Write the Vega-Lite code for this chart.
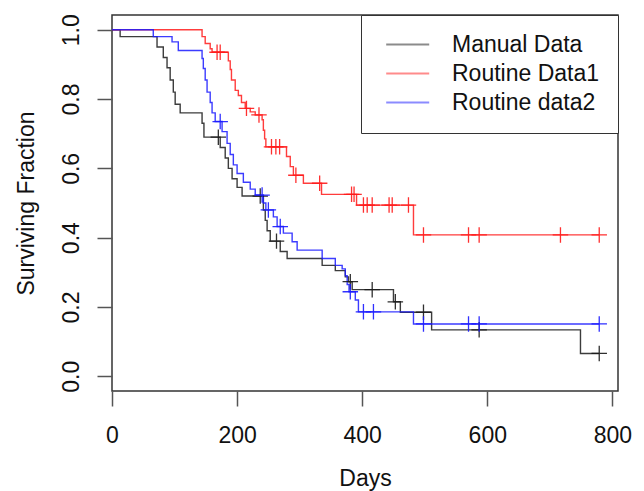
{
  "$schema": "https://vega.github.io/schema/vega-lite/v6.json",
  "width": 506,
  "height": 376,
  "autosize": {"type": "none"},
  "padding": {"left": 112, "top": 15, "right": 26, "bottom": 100},
  "background": "white",
  "config": {
    "font": "Liberation Sans",
    "view": {"stroke": "#333333", "strokeWidth": 1.5},
    "axis": {"grid": false, "domain": false, "tickColor": "#555555", "tickWidth": 1.5, "tickSize": 15, "labelColor": "#111111", "titleColor": "#111111", "labelFontSize": 23, "titleFontSize": 23, "titleFontWeight": "normal"}
  },
  "data": {"values": [
    {"series": "Manual Data", "kind": "step", "day": 0, "surv": 1.0},
    {"series": "Manual Data", "kind": "step", "day": 13, "surv": 0.98},
    {"series": "Manual Data", "kind": "step", "day": 72, "surv": 0.95},
    {"series": "Manual Data", "kind": "step", "day": 82, "surv": 0.92},
    {"series": "Manual Data", "kind": "step", "day": 88, "surv": 0.89},
    {"series": "Manual Data", "kind": "step", "day": 93, "surv": 0.855},
    {"series": "Manual Data", "kind": "step", "day": 98, "surv": 0.82},
    {"series": "Manual Data", "kind": "step", "day": 101, "surv": 0.785},
    {"series": "Manual Data", "kind": "step", "day": 109, "surv": 0.76},
    {"series": "Manual Data", "kind": "step", "day": 144, "surv": 0.73},
    {"series": "Manual Data", "kind": "step", "day": 147, "surv": 0.69},
    {"series": "Manual Data", "kind": "step", "day": 173, "surv": 0.66},
    {"series": "Manual Data", "kind": "step", "day": 181, "surv": 0.63},
    {"series": "Manual Data", "kind": "step", "day": 186, "surv": 0.6},
    {"series": "Manual Data", "kind": "step", "day": 192, "surv": 0.57},
    {"series": "Manual Data", "kind": "step", "day": 200, "surv": 0.545},
    {"series": "Manual Data", "kind": "step", "day": 208, "surv": 0.52},
    {"series": "Manual Data", "kind": "step", "day": 242, "surv": 0.48},
    {"series": "Manual Data", "kind": "step", "day": 245, "surv": 0.45},
    {"series": "Manual Data", "kind": "step", "day": 248, "surv": 0.42},
    {"series": "Manual Data", "kind": "step", "day": 253, "surv": 0.39},
    {"series": "Manual Data", "kind": "step", "day": 269, "surv": 0.36},
    {"series": "Manual Data", "kind": "step", "day": 280, "surv": 0.34},
    {"series": "Manual Data", "kind": "step", "day": 336, "surv": 0.32},
    {"series": "Manual Data", "kind": "step", "day": 357, "surv": 0.305},
    {"series": "Manual Data", "kind": "step", "day": 373, "surv": 0.287},
    {"series": "Manual Data", "kind": "step", "day": 378, "surv": 0.273},
    {"series": "Manual Data", "kind": "step", "day": 384, "surv": 0.25},
    {"series": "Manual Data", "kind": "step", "day": 450, "surv": 0.215},
    {"series": "Manual Data", "kind": "step", "day": 461, "surv": 0.185},
    {"series": "Manual Data", "kind": "step", "day": 511, "surv": 0.134},
    {"series": "Manual Data", "kind": "step", "day": 749, "surv": 0.066},
    {"series": "Manual Data", "kind": "step", "day": 779, "surv": 0.066},
    {"series": "Manual Data", "kind": "censor", "day": 170, "surv": 0.69},
    {"series": "Manual Data", "kind": "censor", "day": 237, "surv": 0.52},
    {"series": "Manual Data", "kind": "censor", "day": 263, "surv": 0.39},
    {"series": "Manual Data", "kind": "censor", "day": 381, "surv": 0.273},
    {"series": "Manual Data", "kind": "censor", "day": 416, "surv": 0.25},
    {"series": "Manual Data", "kind": "censor", "day": 453, "surv": 0.215},
    {"series": "Manual Data", "kind": "censor", "day": 498, "surv": 0.185},
    {"series": "Manual Data", "kind": "censor", "day": 587, "surv": 0.134},
    {"series": "Manual Data", "kind": "censor", "day": 779, "surv": 0.066},
    {"series": "Routine Data1", "kind": "step", "day": 0, "surv": 1.0},
    {"series": "Routine Data1", "kind": "step", "day": 144, "surv": 0.98},
    {"series": "Routine Data1", "kind": "step", "day": 149, "surv": 0.96},
    {"series": "Routine Data1", "kind": "step", "day": 157, "surv": 0.945},
    {"series": "Routine Data1", "kind": "step", "day": 160, "surv": 0.935},
    {"series": "Routine Data1", "kind": "step", "day": 186, "surv": 0.91},
    {"series": "Routine Data1", "kind": "step", "day": 189, "surv": 0.885},
    {"series": "Routine Data1", "kind": "step", "day": 191, "surv": 0.855},
    {"series": "Routine Data1", "kind": "step", "day": 197, "surv": 0.825},
    {"series": "Routine Data1", "kind": "step", "day": 202, "surv": 0.81},
    {"series": "Routine Data1", "kind": "step", "day": 207, "surv": 0.79},
    {"series": "Routine Data1", "kind": "step", "day": 213, "surv": 0.773},
    {"series": "Routine Data1", "kind": "step", "day": 221, "surv": 0.763},
    {"series": "Routine Data1", "kind": "step", "day": 229, "surv": 0.754},
    {"series": "Routine Data1", "kind": "step", "day": 240, "surv": 0.74},
    {"series": "Routine Data1", "kind": "step", "day": 242, "surv": 0.71},
    {"series": "Routine Data1", "kind": "step", "day": 244, "surv": 0.685},
    {"series": "Routine Data1", "kind": "step", "day": 246, "surv": 0.662},
    {"series": "Routine Data1", "kind": "step", "day": 279, "surv": 0.634},
    {"series": "Routine Data1", "kind": "step", "day": 285, "surv": 0.605},
    {"series": "Routine Data1", "kind": "step", "day": 290, "surv": 0.58},
    {"series": "Routine Data1", "kind": "step", "day": 306, "surv": 0.557},
    {"series": "Routine Data1", "kind": "step", "day": 335, "surv": 0.525},
    {"series": "Routine Data1", "kind": "step", "day": 391, "surv": 0.494},
    {"series": "Routine Data1", "kind": "step", "day": 482, "surv": 0.408},
    {"series": "Routine Data1", "kind": "step", "day": 779, "surv": 0.408},
    {"series": "Routine Data1", "kind": "censor", "day": 168, "surv": 0.935},
    {"series": "Routine Data1", "kind": "censor", "day": 173, "surv": 0.935},
    {"series": "Routine Data1", "kind": "censor", "day": 215, "surv": 0.773},
    {"series": "Routine Data1", "kind": "censor", "day": 235, "surv": 0.754},
    {"series": "Routine Data1", "kind": "censor", "day": 255, "surv": 0.662},
    {"series": "Routine Data1", "kind": "censor", "day": 262, "surv": 0.662},
    {"series": "Routine Data1", "kind": "censor", "day": 268, "surv": 0.662},
    {"series": "Routine Data1", "kind": "censor", "day": 294, "surv": 0.58},
    {"series": "Routine Data1", "kind": "censor", "day": 332, "surv": 0.557},
    {"series": "Routine Data1", "kind": "censor", "day": 383, "surv": 0.525},
    {"series": "Routine Data1", "kind": "censor", "day": 387, "surv": 0.525},
    {"series": "Routine Data1", "kind": "censor", "day": 402, "surv": 0.494},
    {"series": "Routine Data1", "kind": "censor", "day": 408, "surv": 0.494},
    {"series": "Routine Data1", "kind": "censor", "day": 416, "surv": 0.494},
    {"series": "Routine Data1", "kind": "censor", "day": 443, "surv": 0.494},
    {"series": "Routine Data1", "kind": "censor", "day": 448, "surv": 0.494},
    {"series": "Routine Data1", "kind": "censor", "day": 474, "surv": 0.494},
    {"series": "Routine Data1", "kind": "censor", "day": 498, "surv": 0.408},
    {"series": "Routine Data1", "kind": "censor", "day": 570, "surv": 0.408},
    {"series": "Routine Data1", "kind": "censor", "day": 587, "surv": 0.408},
    {"series": "Routine Data1", "kind": "censor", "day": 717, "surv": 0.408},
    {"series": "Routine Data1", "kind": "censor", "day": 779, "surv": 0.408},
    {"series": "Routine data2", "kind": "step", "day": 0, "surv": 1.0},
    {"series": "Routine data2", "kind": "step", "day": 66, "surv": 0.98},
    {"series": "Routine data2", "kind": "step", "day": 96, "surv": 0.965},
    {"series": "Routine data2", "kind": "step", "day": 106, "surv": 0.94},
    {"series": "Routine data2", "kind": "step", "day": 144, "surv": 0.917},
    {"series": "Routine data2", "kind": "step", "day": 146, "surv": 0.888},
    {"series": "Routine data2", "kind": "step", "day": 149, "surv": 0.855},
    {"series": "Routine data2", "kind": "step", "day": 152, "surv": 0.82},
    {"series": "Routine data2", "kind": "step", "day": 157, "surv": 0.79},
    {"series": "Routine data2", "kind": "step", "day": 160, "surv": 0.76},
    {"series": "Routine data2", "kind": "step", "day": 165, "surv": 0.735},
    {"series": "Routine data2", "kind": "step", "day": 176, "surv": 0.706},
    {"series": "Routine data2", "kind": "step", "day": 184, "surv": 0.672},
    {"series": "Routine data2", "kind": "step", "day": 189, "surv": 0.64},
    {"series": "Routine data2", "kind": "step", "day": 194, "surv": 0.61},
    {"series": "Routine data2", "kind": "step", "day": 200, "surv": 0.585},
    {"series": "Routine data2", "kind": "step", "day": 210, "surv": 0.56},
    {"series": "Routine data2", "kind": "step", "day": 221, "surv": 0.54},
    {"series": "Routine data2", "kind": "step", "day": 229, "surv": 0.523},
    {"series": "Routine data2", "kind": "step", "day": 242, "surv": 0.5},
    {"series": "Routine data2", "kind": "step", "day": 246, "surv": 0.48},
    {"series": "Routine data2", "kind": "step", "day": 258, "surv": 0.46},
    {"series": "Routine data2", "kind": "step", "day": 264, "surv": 0.432},
    {"series": "Routine data2", "kind": "step", "day": 274, "surv": 0.413},
    {"series": "Routine data2", "kind": "step", "day": 288, "surv": 0.388},
    {"series": "Routine data2", "kind": "step", "day": 296, "surv": 0.364},
    {"series": "Routine data2", "kind": "step", "day": 336, "surv": 0.34},
    {"series": "Routine data2", "kind": "step", "day": 357, "surv": 0.32},
    {"series": "Routine data2", "kind": "step", "day": 368, "surv": 0.31},
    {"series": "Routine data2", "kind": "step", "day": 373, "surv": 0.29},
    {"series": "Routine data2", "kind": "step", "day": 376, "surv": 0.265},
    {"series": "Routine data2", "kind": "step", "day": 379, "surv": 0.244},
    {"series": "Routine data2", "kind": "step", "day": 389, "surv": 0.22},
    {"series": "Routine data2", "kind": "step", "day": 394, "surv": 0.186},
    {"series": "Routine data2", "kind": "step", "day": 482, "surv": 0.151},
    {"series": "Routine data2", "kind": "step", "day": 779, "surv": 0.151},
    {"series": "Routine data2", "kind": "censor", "day": 173, "surv": 0.735},
    {"series": "Routine data2", "kind": "censor", "day": 240, "surv": 0.523},
    {"series": "Routine data2", "kind": "censor", "day": 250, "surv": 0.48},
    {"series": "Routine data2", "kind": "censor", "day": 269, "surv": 0.432},
    {"series": "Routine data2", "kind": "censor", "day": 381, "surv": 0.244},
    {"series": "Routine data2", "kind": "censor", "day": 402, "surv": 0.186},
    {"series": "Routine data2", "kind": "censor", "day": 418, "surv": 0.186},
    {"series": "Routine data2", "kind": "censor", "day": 498, "surv": 0.151},
    {"series": "Routine data2", "kind": "censor", "day": 570, "surv": 0.151},
    {"series": "Routine data2", "kind": "censor", "day": 587, "surv": 0.151},
    {"series": "Routine data2", "kind": "censor", "day": 779, "surv": 0.151}
  ]},
  "encoding": {
    "x": {"field": "day", "type": "quantitative", "scale": {"domain": [0, 809], "nice": false, "zero": false},
      "axis": {"title": "Days", "values": [0, 200, 400, 600, 800], "labelPadding": 18, "titlePadding": 20, "labelFlush": false}},
    "y": {"field": "surv", "type": "quantitative", "scale": {"domain": [-0.0424, 1.0424], "nice": false, "zero": false},
      "axis": {"title": "Surviving Fraction", "values": [0, 0.2, 0.4, 0.6, 0.8, 1.0], "format": ".1f", "labelAngle": -90, "labelAlign": "center", "labelBaseline": "alphabetic", "labelPadding": 19, "titlePadding": 22, "labelFlush": false}},
    "color": {"field": "series", "type": "nominal",
      "scale": {"domain": ["Manual Data", "Routine Data1", "Routine data2"], "range": ["#1a1a1a", "#ff1a1a", "#1a1aff"]}}
  },
  "layer": [
    {
      "transform": [{"filter": "datum.kind === 'step'"}],
      "mark": {"type": "line", "interpolate": "step-after", "strokeWidth": 1.4, "opacity": 0.85},
      "encoding": {
        "color": {"field": "series", "type": "nominal",
          "legend": {"title": null, "orient": "top-right", "offset": 0, "symbolType": "M-0.43,0L3.87,0", "symbolSize": 400, "symbolStrokeWidth": 2, "symbolOpacity": 0.5, "labelFontSize": 23, "labelOffset": 50, "labelColor": "#111111", "padding": 18, "rowPadding": 5, "strokeColor": "#333333", "fillColor": "white", "cornerRadius": 0}}
      }
    },
    {
      "transform": [{"filter": "datum.kind === 'censor'"}],
      "mark": {"type": "point", "shape": "M-1,0L1,0M0,-1L0,1", "size": 240, "filled": false, "strokeWidth": 1.3, "opacity": 0.9},
      "encoding": {
        "color": {"field": "series", "type": "nominal", "legend": null}
      }
    }
  ]
}
